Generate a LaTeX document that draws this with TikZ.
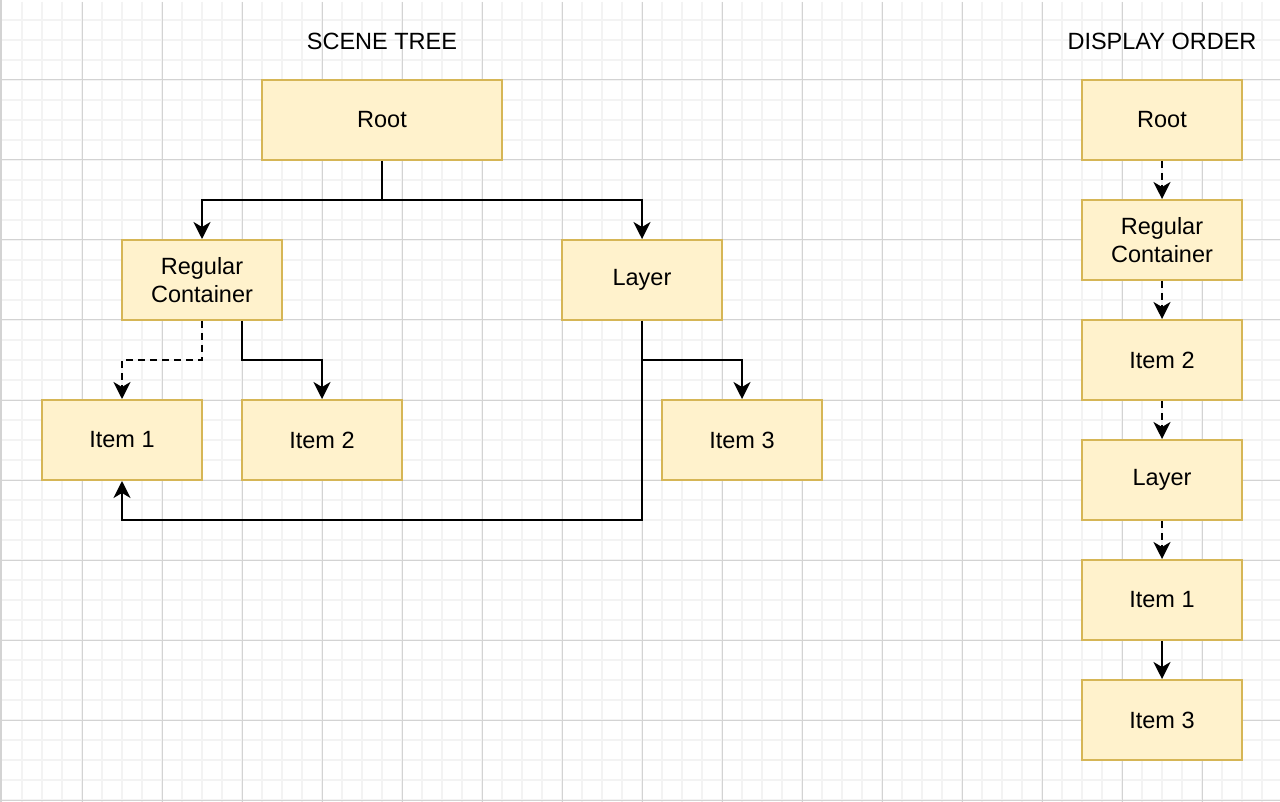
\documentclass[tikz,border=0pt]{standalone}
\usepackage{fontspec}
\setmainfont{Liberation Sans}
\usetikzlibrary{arrows.meta}
\definecolor{boxfill}{HTML}{FFF2CC}
\definecolor{boxdraw}{HTML}{D6B656}
\definecolor{gridminor}{HTML}{F3F3F3}
\definecolor{gridmajor}{HTML}{D3D3D3}
\begin{document}
\begin{tikzpicture}[x=1pt,y=-1pt,
  box/.style={draw=boxdraw,fill=boxfill,line width=2pt,minimum width=160pt,minimum height=80pt,align=center,inner sep=0pt,font=\fontsize{23.5}{28}\selectfont},
  titletext/.style={font=\fontsize{23.5}{28}\selectfont,inner sep=0pt},
  conn/.style={line width=2pt,-{Stealth[length=17pt,width=17pt,inset=5pt]}},
  dashconn/.style={conn,dash pattern=on 7pt off 5pt}]
\useasboundingbox (0,0) rectangle (1280,802);
\fill[white] (0,0) rectangle (1280,802);
% grid
\foreach \k in {1,...,63} \draw[gridminor,line width=1.6pt] ({2+20*\k},2) -- ({2+20*\k},802);
\foreach \k in {1,...,40} \draw[gridminor,line width=1.6pt] (2,{20*\k}) -- (1280,{20*\k});
\foreach \k in {1,...,15} \draw[gridmajor,line width=1pt] ({2+80*\k},2) -- ({2+80*\k},802);
\foreach \k in {1,...,10} \draw[gridmajor,line width=1pt] (2,{80*\k}) -- (1280,{80*\k});
\draw[gridmajor,line width=2pt] (1,0) -- (1,802);
% titles
\node[titletext] (t1) at (382,41.5) {SCENE TREE};
\node[titletext] (t2) at (1162,41.5) {DISPLAY ORDER};
% scene tree
\node[box,minimum width=240pt] (root) at (382,120) {Root};
\node[box] (rc) at (202,280) {Regular\\Container};
\node[box] (layer) at (642,280) {Layer};
\node[box] (i1) at (122,440) {Item 1};
\node[box] (i2) at (322,440) {Item 2};
\node[box] (i3) at (742,440) {Item 3};
% display order
\node[box] (rroot) at (1162,120) {Root};
\node[box] (rrc) at (1162,240) {Regular\\Container};
\node[box] (ri2) at (1162,360) {Item 2};
\node[box] (rlayer) at (1162,480) {Layer};
\node[box] (ri1) at (1162,600) {Item 1};
\node[box] (ri3) at (1162,720) {Item 3};
% connectors
\coordinate (j1) at (382,200);
\draw[conn] (root.south) -- (j1) -| (rc.north);
\draw[conn] (j1) -| (layer.north);
\coordinate (j2) at (202,360);
\draw[dashconn] (rc.south) -- (j2) -| (i1.north);
\coordinate (j3) at (242,360);
\draw[conn] (j3 |- rc.south) -- (j3) -| (i2.north);
\coordinate (j4) at (642,360);
\draw[conn] (layer.south) -- (j4) -| (i3.north);
\coordinate (j5) at (642,520);
\draw[conn] (layer.south) -- (j5) -| (i1.south);
\draw[dashconn] (rroot.south) -- (rrc.north);
\draw[dashconn] (rrc.south) -- (ri2.north);
\draw[dashconn] (ri2.south) -- (rlayer.north);
\draw[dashconn] (rlayer.south) -- (ri1.north);
\draw[conn] (ri1.south) -- (ri3.north);
\end{tikzpicture}
\end{document}
